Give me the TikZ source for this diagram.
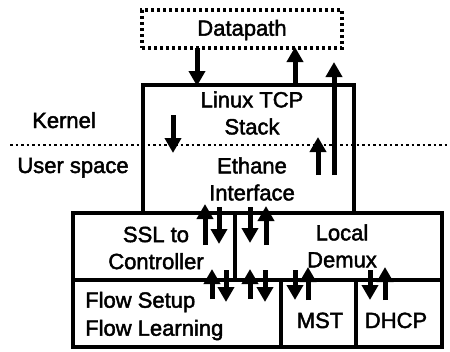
\documentclass[tikz,border=0pt]{standalone}
\usepackage{fontspec}
\setmainfont{Liberation Sans}
\newfontfamily\heavyfont[FakeBold=2]{Liberation Sans}
\usetikzlibrary{arrows.meta}
\begin{document}
\begin{tikzpicture}[x=1pt,y=-1pt,
  lbl/.style={font=\heavyfont\fontsize{22}{28}\selectfont, inner sep=0pt, align=center},
  box/.style={draw=black, line width=3.5pt},
  dotbox/.style={draw=black, line width=3.5pt, dash pattern=on 3pt off 3pt},
  sep/.style={draw=black, line width=2.5pt, dash pattern=on 2.5pt off 3pt},
  thk/.style={line width=5pt, -{Triangle[width=16pt,length=15pt]}}
]
\useasboundingbox (0,0) rectangle (450,351);
% boundary line
\coordinate (sl) at (10,145);
\coordinate (sr) at (450,145);
\draw[sep] (sl) -- (sr);
% Datapath
\node[dotbox, minimum width=200pt, minimum height=38pt, inner sep=0pt] (dp) at (242,29) {};
\node[lbl] (dpt) at (242,30) {Datapath};
% main box
\draw[box] (143,213) -- (143,85) -- (354,85) -- (354,213);
\coordinate (mb) at (143,85);
\node[lbl] (tcp) at (252,113) {Linux TCP\\[-1pt]Stack};
\node[lbl] (eth) at (252,179) {Ethane\\[-1pt]Interface};
% bottom box
\draw[box] (73,213) rectangle (442,347);
\draw[box] (73,280) -- (442,280);
\draw[box] (235,213) -- (235,280);
\draw[box] (281,280) -- (281,347);
\draw[box] (356,280) -- (356,347);
\node[lbl] (ssl) at (156,248) {SSL to\\[-1pt]Controller};
\node[lbl] (dmx) at (342,246) {Local\\[-1pt]Demux};
\node[lbl, align=left, anchor=west] (flow) at (85,316) {Flow Setup\\[0pt]Flow Learning};
\node[lbl, anchor=base] (mst) at (320,328) {MST};
\node[lbl, anchor=base] (dhcp) at (396,328) {DHCP};
% side labels
\node[lbl, anchor=base] (ker) at (64,128) {Kernel};
\node[lbl, anchor=base] (usr) at (73,173) {User space};
% arrows
\coordinate (a1s) at (197,48); \coordinate (a1e) at (197,86);
\draw[thk] (a1s) -- (a1e);
\coordinate (a2s) at (295,85); \coordinate (a2e) at (295,47);
\draw[thk] (a2s) -- (a2e);
\coordinate (a3s) at (334,175); \coordinate (a3e) at (334,62);
\draw[thk] (a3s) -- (a3e);
\coordinate (a4s) at (173,115); \coordinate (a4e) at (173,153);
\draw[thk] (a4s) -- (a4e);
\coordinate (a5s) at (318,175); \coordinate (a5e) at (318,137);
\draw[thk] (a5s) -- (a5e);
% SSL / Demux row
\coordinate (b1s) at (205,245); \coordinate (b1e) at (205,204);
\draw[thk] (b1s) -- (b1e);
\coordinate (b2s) at (219,207); \coordinate (b2e) at (219,244);
\draw[thk] (b2s) -- (b2e);
\coordinate (b3s) at (250,207); \coordinate (b3e) at (250,243);
\draw[thk] (b3s) -- (b3e);
\coordinate (b4s) at (266,245); \coordinate (b4e) at (266,206);
\draw[thk] (b4s) -- (b4e);
% bottom row
\coordinate (c1s) at (212,299); \coordinate (c1e) at (212,269);
\draw[thk] (c1s) -- (c1e);
\coordinate (c2s) at (226,270); \coordinate (c2e) at (226,302);
\draw[thk] (c2s) -- (c2e);
\coordinate (c3s) at (250,299); \coordinate (c3e) at (250,269);
\draw[thk] (c3s) -- (c3e);
\coordinate (c4s) at (265,270); \coordinate (c4e) at (265,302);
\draw[thk] (c4s) -- (c4e);
\coordinate (c5s) at (295,270); \coordinate (c5e) at (295,300);
\draw[thk] (c5s) -- (c5e);
\coordinate (c6s) at (308,300); \coordinate (c6e) at (308,267);
\draw[thk] (c6s) -- (c6e);
\coordinate (c7s) at (370,270); \coordinate (c7e) at (370,300);
\draw[thk] (c7s) -- (c7e);
\coordinate (c8s) at (385,300); \coordinate (c8e) at (385,267);
\draw[thk] (c8s) -- (c8e);
\end{tikzpicture}
\end{document}
